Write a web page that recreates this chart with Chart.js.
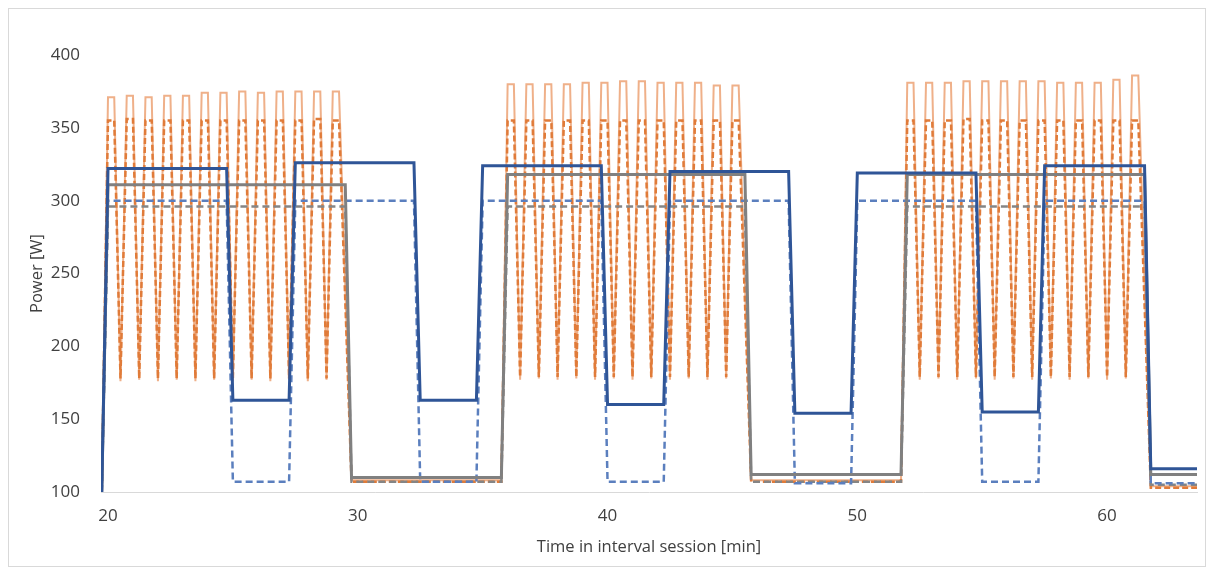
<!DOCTYPE html>
<html>
<head>
<meta charset="utf-8">
<script src="https://cdn.jsdelivr.net/npm/chart.js@4.4.1/dist/chart.umd.min.js"></script>
<style>
  html, body { margin: 0; padding: 0; background: #fff; }
  #wrap { position: relative; width: 1214px; height: 567px; }
</style>
</head>
<body>
<div id="wrap"><canvas id="powerChart" width="1214" height="567"></canvas></div>
<script>
// session timeline (min) and the first recorded sample
const sessionStart = 19.75;
const sessionEnd = 63.6;
const baseline = 100;
const sampleStep = 0.25;   // min between samples

const xTicks = [20, 30, 40, 50, 60];
const yTicks = [100, 150, 200, 250, 300, 350, 400];

// short intervals: 3 blocks of 13 reps (two on-samples, one trough between reps)
const shortBlockStart = [20.0, 36.0, 52.0];
const shortActualPeak = [
  [371, 372, 371, 372, 372, 374, 374, 375, 374, 375, 375, 375, 375],
  [380, 380, 380, 380, 381, 381, 382, 382, 381, 381, 381, 379, 379],
  [381, 381, 381, 382, 382, 382, 382, 382, 381, 381, 381, 383, 386]
];
const shortActualTrough = [
  [176, 177, 176, 177, 176, 177, 176, 177, 176, 177, 176, 177],
  [177, 178, 177, 178, 177, 178, 177, 178, 177, 178, 177, 178],
  [177, 178, 177, 178, 177, 178, 177, 178, 177, 178, 177, 178]
];
const shortActualRest = [108, 108, 104];
const shortTargetPeak = [
  [355, 356, 355, 355, 355, 355, 355, 355, 355, 355, 355, 356, 355],
  [355, 355, 355, 355, 355, 355, 355, 355, 355, 355, 355, 355, 355],
  [355, 355, 355, 356, 355, 355, 355, 355, 355, 355, 355, 355, 355]
];
const shortTargetTrough = [
  [178, 178, 178, 178, 178, 178, 178, 178, 178, 178, 178, 178],
  [179, 179, 179, 179, 179, 179, 179, 179, 179, 179, 179, 179],
  [179, 179, 179, 179, 179, 179, 179, 179, 179, 179, 179, 179]
];
const shortTargetRest = [107, 107, 103];

// long intervals: 6 work bouts with recoveries
const longOnStart  = [20.0, 27.5, 35.0, 42.5, 50.0, 57.5];
const longOnEnd    = [24.75, 32.25, 39.75, 47.25, 54.75, 61.5];
const longOffStart = [25.0, 32.5, 40.0, 47.5, 55.0, 61.75];
const longOffEnd   = [27.25, 34.75, 42.25, 49.75, 57.25, 63.6];
const longActualOn  = [322, 326, 324, 320, 319, 324];
const longActualOff = [163, 163, 160, 154, 155, 116];
const longTargetOn  = [300, 300, 300, 300, 300, 300];
const longTargetOff = [107, 107, 107, 106, 107, 106];

// continuous blocks
const contOnStart  = [20.0, 36.0, 52.0];
const contOnEnd    = [29.5, 45.5, 61.5];
const contOffStart = [29.75, 45.75, 61.75];
const contOffEnd   = [35.75, 51.75, 63.6];
const contActualOn  = [311, 318, 318];
const contActualOff = [110, 112, 112];
const contTargetOn  = [296, 296, 296];
const contTargetOff = [107, 107, 105];

function shortSeries(peaks, troughs, rests) {
  const pts = [{ x: sessionStart, y: baseline }];
  shortBlockStart.forEach((t0, b) => {
    if (b > 0) pts.push({ x: t0 - sampleStep, y: rests[b - 1] });
    peaks[b].forEach((p, i) => {
      const t = t0 + i * 3 * sampleStep;
      pts.push({ x: t, y: p }, { x: t + sampleStep, y: p });
      if (i < troughs[b].length) pts.push({ x: t + 2 * sampleStep, y: troughs[b][i] });
    });
    const lastOn = t0 + (peaks[b].length - 1) * 3 * sampleStep + sampleStep;
    pts.push({ x: lastOn + 2 * sampleStep, y: rests[b] });
  });
  pts.push({ x: sessionEnd, y: rests[rests.length - 1] });
  return pts;
}

function stepSeries(onStart, onEnd, onW, offStart, offEnd, offW) {
  const pts = [{ x: sessionStart, y: baseline }];
  onStart.forEach((t, i) => {
    pts.push({ x: t, y: onW[i] }, { x: onEnd[i], y: onW[i] });
    pts.push({ x: offStart[i], y: offW[i] }, { x: offEnd[i], y: offW[i] });
  });
  return pts;
}

const textColor = '#404040';
const tickFont = { family: 'Open Sans', size: 17 };
const titleFont = { family: 'Open Sans', size: 16.5 };

// white background and thin outer frame
const framePlugin = {
  id: 'frame',
  beforeDraw(chart) {
    const ctx = chart.ctx;
    ctx.save();
    ctx.fillStyle = '#ffffff';
    ctx.fillRect(0, 0, chart.width, chart.height);
    ctx.strokeStyle = '#d9d9d9';
    ctx.lineWidth = 1;
    ctx.strokeRect(8.5, 8.5, chart.width - 17, chart.height - 9);
    ctx.restore();
  }
};

new Chart(document.getElementById('powerChart'), {
  type: 'line',
  data: {
    datasets: [
      { data: stepSeries(longOnStart, longOnEnd, longActualOn, longOffStart, longOffEnd, longActualOff),
        borderColor: '#2F5597', borderWidth: 3 },
      { data: stepSeries(contOnStart, contOnEnd, contActualOn, contOffStart, contOffEnd, contActualOff),
        borderColor: '#808080', borderWidth: 3 },
      { data: stepSeries(longOnStart, longOnEnd, longTargetOn, longOffStart, longOffEnd, longTargetOff),
        borderColor: '#5B7FBE', borderWidth: 2.5, borderDash: [7, 4] },
      { data: stepSeries(contOnStart, contOnEnd, contTargetOn, contOffStart, contOffEnd, contTargetOff),
        borderColor: '#858585', borderWidth: 2.5, borderDash: [7, 4] },
      { data: shortSeries(shortTargetPeak, shortTargetTrough, shortTargetRest),
        borderColor: '#E07B39', borderWidth: 2.5, borderDash: [6, 3] },
      { data: shortSeries(shortActualPeak, shortActualTrough, shortActualRest),
        borderColor: '#EFB089', borderWidth: 2 }
    ]
  },
  options: {
    responsive: false,
    animation: false,
    parsing: true,
    layout: { padding: { left: 0, right: 17, top: 55, bottom: 0 } },
    elements: { point: { radius: 0 }, line: { tension: 0, fill: false } },
    plugins: { legend: { display: false }, tooltip: { enabled: false } },
    scales: {
      x: {
        type: 'linear',
        min: 19.72,
        max: 63.6,
        afterBuildTicks: s => { s.ticks = xTicks.map(v => ({ value: v })); },
        afterFit: s => { s.height = 75; },
        grid: { display: false, drawTicks: false },
        border: { display: true, color: '#d9d9d9', width: 1 },
        ticks: { padding: 14, font: tickFont, color: textColor, maxRotation: 0, autoSkip: false },
        title: { display: true, text: 'Time in interval session [min]', font: titleFont,
                 color: textColor, padding: { top: 0, bottom: 10 } }
      },
      y: {
        type: 'linear',
        min: 100,
        max: 400,
        afterBuildTicks: s => { s.ticks = yTicks.map(v => ({ value: v })); },
        afterFit: s => { s.width = 101; },
        grid: { display: false, drawTicks: false },
        border: { display: false },
        ticks: { padding: 21, font: tickFont, color: textColor },
        title: { display: true, text: 'Power [W]', font: titleFont,
                 color: textColor, padding: { top: 27, bottom: 0 } }
      }
    }
  },
  plugins: [framePlugin]
});
</script>
</body>
</html>
